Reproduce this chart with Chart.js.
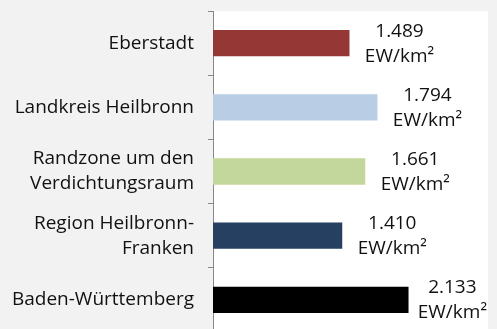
<!DOCTYPE html>
<html>
<head>
<meta charset="utf-8">
<script src="https://cdn.jsdelivr.net/npm/chart.js@4.4.0/dist/chart.umd.min.js"></script>
<style>
  html, body { margin: 0; padding: 0; background: #f2f2f2; overflow: hidden; }
  #wrap { width: 497px; height: 332px; position: relative; }
</style>
</head>
<body>
<div id="wrap"><canvas id="dichteChart"></canvas></div>
<script>
// Einwohnerdichte je Gebiet
const regionen = [
  ["Eberstadt"],
  ["Landkreis Heilbronn"],
  ["Randzone um den", "Verdichtungsraum"],
  ["Region Heilbronn-", "Franken"],
  ["Baden-Württemberg"]
];
const dichte = [1489, 1794, 1661, 1410, 2133];
const farben = ["#953735", "#b9cde5", "#c3d69b", "#254061", "#000000"];
const einheit = "EW/km²";

const schrift = "'Open Sans', 'DejaVu Sans', sans-serif";

function tausender(v) {
  return String(v).replace(/\B(?=(\d{3})+(?!\d))/g, ".");
}

// weißer Hintergrund nur im Plotbereich
const plotHintergrund = {
  id: "plotHintergrund",
  beforeDraw(chart) {
    const { ctx, chartArea: a } = chart;
    ctx.save();
    ctx.fillStyle = "#ffffff";
    ctx.fillRect(a.left, a.top, a.right - a.left, a.bottom - a.top);
    ctx.restore();
  }
};

// Wertbeschriftung rechts neben den Balken (zweizeilig)
const wertLabels = {
  id: "wertLabels",
  afterDatasetsDraw(chart) {
    const { ctx, chartArea } = chart;
    const meta = chart.getDatasetMeta(0);
    ctx.save();
    ctx.font = "19px " + schrift;
    ctx.fillStyle = "#111111";
    ctx.textAlign = "center";
    ctx.textBaseline = "middle";
    meta.data.forEach((bar, i) => {
      const zeilen = [tausender(dichte[i]), einheit];
      const breite = Math.max(...zeilen.map(z => ctx.measureText(z).width));
      const x = Math.min(bar.x + 50, chartArea.right - breite / 2 - 1);
      ctx.fillText(zeilen[0], x, bar.y - 12);
      ctx.fillText(zeilen[1], x, bar.y + 13);
    });
    ctx.restore();
  }
};

const ctx = document.getElementById("dichteChart").getContext("2d");
new Chart(ctx, {
  type: "bar",
  data: {
    labels: regionen,
    datasets: [{
      data: dichte,
      backgroundColor: farben,
      barPercentage: 0.41,
      categoryPercentage: 1
    }]
  },
  options: {
    indexAxis: "y",
    responsive: true,
    maintainAspectRatio: false,
    animation: false,
    layout: { padding: { top: 11, right: 9, left: 0, bottom: 0 } },
    plugins: {
      legend: { display: false },
      tooltip: { enabled: false }
    },
    scales: {
      x: { display: false, min: 0, max: 3000 },
      y: {
        grid: { drawOnChartArea: false, tickLength: 5, color: "#878787" },
        border: { color: "#878787" },
        ticks: {
          padding: 14,
          color: "#111111",
          font: { family: schrift, size: 19, lineHeight: 1.32 }
        },
        afterFit(scale) {
          scale.width = 213;
          scale.paddingTop = 0;
          scale.paddingBottom = 0;
        }
      }
    }
  },
  plugins: [plotHintergrund, wertLabels]
});
</script>
</body>
</html>
